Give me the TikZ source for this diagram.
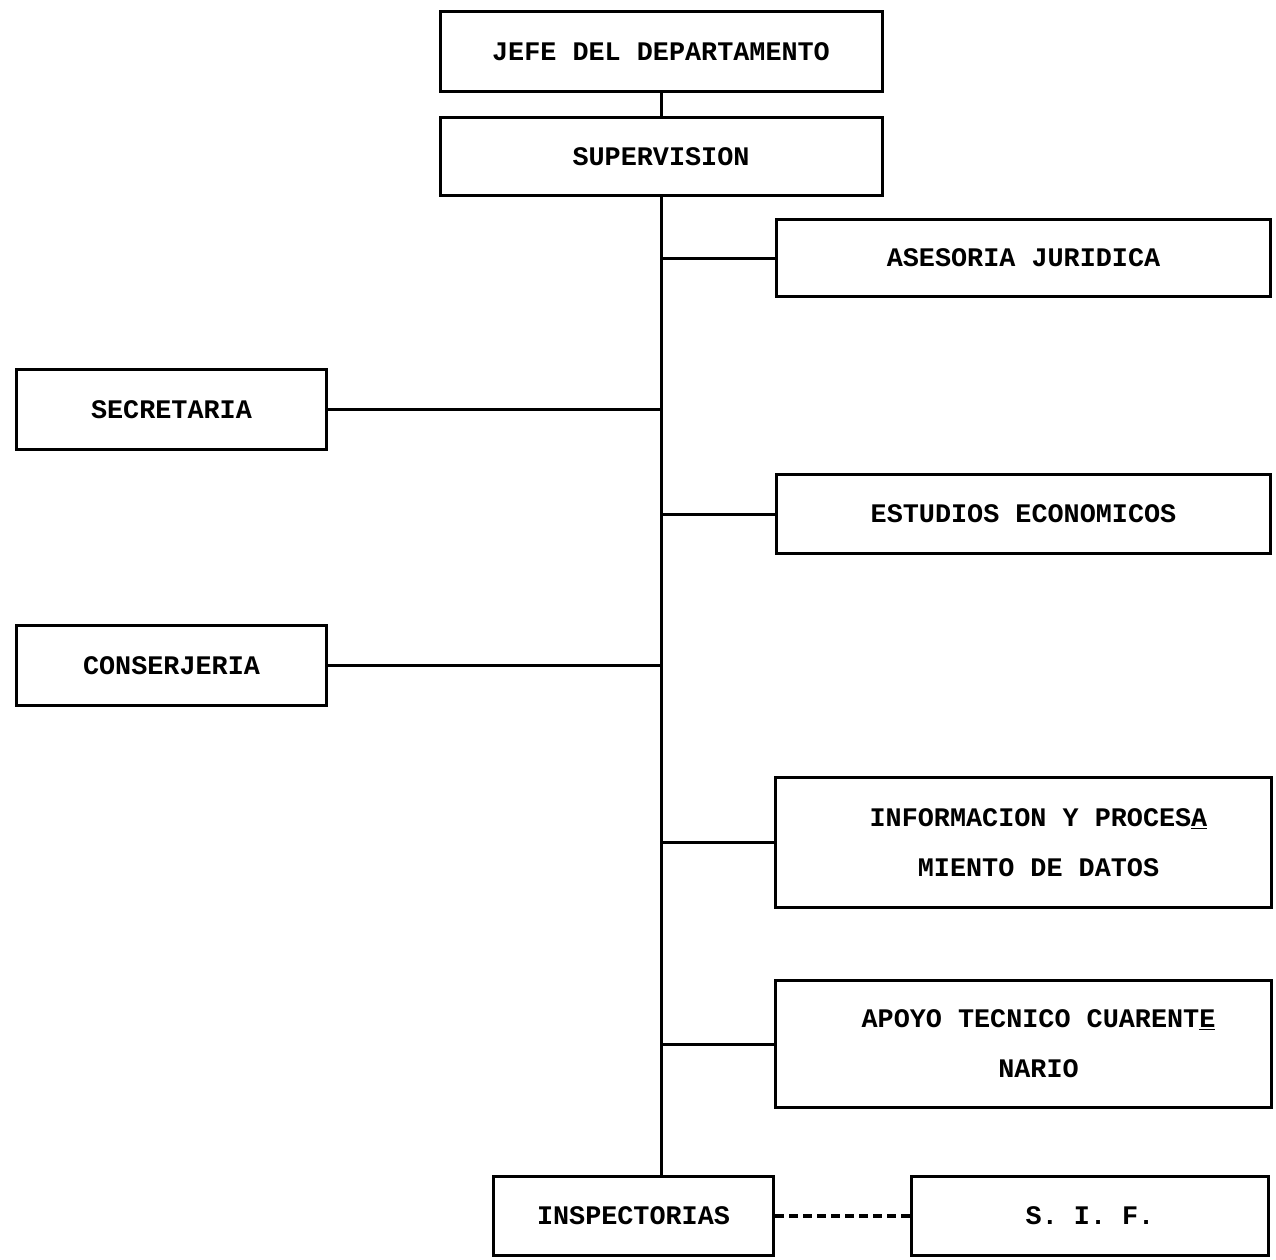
\documentclass[tikz,border=0pt]{standalone}
\usepackage{fontspec}
\newfontfamily\orgfont{Liberation Mono}
\usepackage{tikz}
\usetikzlibrary{positioning}

\begin{document}
\begin{tikzpicture}[x=1pt,y=-1pt,
    unit/.style={draw,line width=3pt,inner sep=0pt,align=center,
      font=\orgfont\bfseries\fontsize{26.8}{50}\selectfont},
    link/.style={line width=3pt}]
    \useasboundingbox (0,0) rectangle (1276,1259);
    \node[unit,minimum width=442,minimum height=80] (jefe) at (661,51.5) {JEFE DEL DEPARTAMENTO};
    \node[unit,minimum width=442,minimum height=78] (sup) [below=23pt of jefe] {SUPERVISION};
    \node[unit,minimum width=494,minimum height=77] (ase) at (1023.5,258) {ASESORIA JURIDICA};
    \node[unit,minimum width=310,minimum height=80] (sec) at (171.5,409.5) {SECRETARIA};
    \node[unit,minimum width=494,minimum height=79] (est) at (1023.5,514) {ESTUDIOS ECONOMICOS};
    \node[unit,minimum width=310,minimum height=80] (con) at (171.5,665.5) {CONSERJERIA};
    \node[unit,minimum width=496,minimum height=130] (inf) at (1023.5,842.5)
      {\hspace*{30pt}INFORMACION Y PROCES\underline{A}\\\hspace*{30pt}MIENTO DE DATOS};
    \node[unit,minimum width=496,minimum height=127] (apo) at (1023.5,1044)
      {\hspace*{30pt}APOYO TECNICO CUARENT\underline{E}\\\hspace*{30pt}NARIO};
    \node[unit,minimum width=280,minimum height=79] (insp) at (633.5,1216) {INSPECTORIAS};
    \node[unit,minimum width=357,minimum height=79] (sif) [right=135pt of insp] {S. I. F.};
    % trunk and branches
    \draw[link] (jefe) -- (sup);
    \draw[link] (sup.south) -- (sup.south |- insp.north);
    \foreach \b in {ase,est,inf,apo}
      \draw[link] (sup.south |- \b.west) -- (\b.west);
    \foreach \b in {sec,con}
      \draw[link] (\b.east) -- (\b.east -| sup.south);
    \draw[link,line width=3.4pt,dash pattern=on 9pt off 5pt] (insp) -- (sif);
\end{tikzpicture}
\end{document}
